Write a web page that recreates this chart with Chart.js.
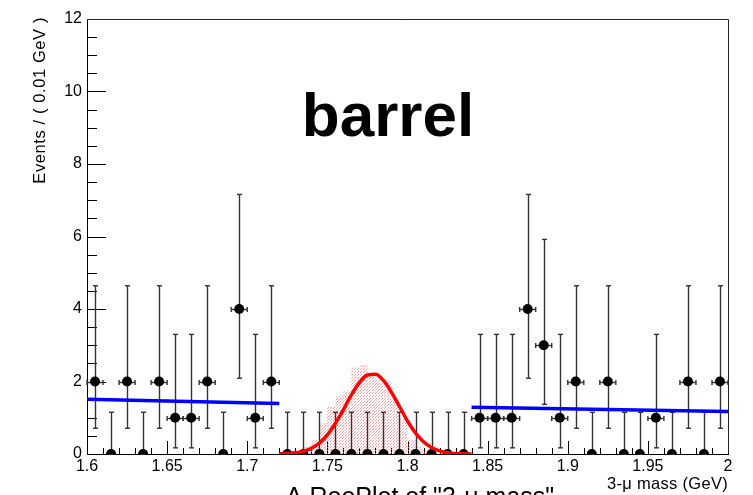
<!DOCTYPE html>
<html><head><meta charset="utf-8">
<script src="https://cdn.jsdelivr.net/npm/chart.js@4.4.1/dist/chart.umd.min.js"></script>
<style>html,body{margin:0;padding:0;background:#fff;overflow:hidden}#wrap{width:753px;height:495px;position:relative}</style>
</head><body><div id="wrap"><canvas id="c" width="753" height="495"></canvas></div>
<script>
// ---- data ----
const binCenters = [1.605,1.615,1.625,1.635,1.645,1.655,1.665,1.675,1.685,1.695,1.705,1.715,
  1.725,1.735,1.745,1.755,1.765,1.775,1.785,1.795,1.805,1.815,1.825,1.835,
  1.845,1.855,1.865,1.875,1.885,1.895,1.905,1.915,1.925,1.935,1.945,1.955,1.965,1.975,1.985,1.995];
const counts = [2,0,2,0,2,1,1,2,0,4,1,2,
  0,0,0,0,0,0,0,0,0,0,0,0,
  1,1,1,4,3,1,2,0,2,0,0,1,0,2,0,2];
const errLow = [1.29,0,1.29,0,1.29,0.83,0.83,1.29,0,1.91,0.83,1.29,
  0,0,0,0,0,0,0,0,0,0,0,0,
  0.83,0.83,0.83,1.91,1.63,0.83,1.29,0,1.29,0,0,0.83,0,1.29,0,1.29];
const errHigh = [2.64,1.15,2.64,1.15,2.64,2.30,2.30,2.64,1.15,3.16,2.30,2.64,
  1.15,1.15,1.15,1.15,1.15,1.15,1.15,1.15,1.15,1.15,1.15,1.15,
  2.30,2.30,2.30,3.16,2.92,2.30,2.64,1.15,2.64,1.15,1.15,2.30,1.15,2.64,1.15,2.64];
const binHalfWidth = 0.005;

const bkgLeftX = [1.60, 1.72];
const bkgLeftY = [1.51, 1.39];
const bkgRightX = [1.84, 2.00];
const bkgRightY = [1.29, 1.17];

const sigX = [1.72,1.725,1.73,1.735,1.74,1.745,1.75,1.755,1.76,1.765,1.77,1.775,1.78,1.785,1.79,1.795,1.80,1.805,1.81,1.815,1.82,1.825,1.83,1.835,1.84];
const sigY = [0.005,0.013,0.032,0.074,0.157,0.30,0.53,0.84,1.22,1.63,1.97,2.18,2.20,2.03,1.70,1.31,0.91,0.58,0.34,0.18,0.087,0.038,0.015,0.006,0.002];

const histX = [1.735,1.74,1.745,1.75,1.755,1.76,1.765,1.77,1.775,1.78,1.785,1.79,1.795,1.80,1.805,1.81,1.815,1.82];
const histY = [0.1,0.2,0.4,0.85,1.3,1.6,1.75,2.4,2.45,2.15,2.05,2.0,1.5,1.0,0.4,0.2,0.1,0];

const xTickValues = [1.6,1.65,1.7,1.75,1.8,1.85,1.9,1.95,2.0];
const xTickLabels = ['1.6','1.65','1.7','1.75','1.8','1.85','1.9','1.95','2'];
const yTickValues = [0,2,4,6,8,10,12];
const yTickLabels = ['0','2','4','6','8','10','12'];

const titleText = 'barrel';
const xTitle = '3-\u03bc mass (GeV)';
const yTitle = 'Events / ( 0.01 GeV )';
const bottomTitle = 'A RooPlot of "3-\u03bc mass"';

// ---- rendering ----
const FONT = "'Liberation Sans', Arial, Helvetica, sans-serif";

const pc = document.createElement('canvas');
pc.width = 3; pc.height = 3;
const pg = pc.getContext('2d');
pg.fillStyle = 'rgba(250,120,120,0.7)';
pg.fillRect(0,0,1,1);
pg.fillRect(1,2,1,1);
pg.fillStyle = 'rgba(250,170,170,0.5)';
pg.fillRect(2,1,1,1);
const histPattern = pg.createPattern(pc, 'repeat');

const POINTS_INDEX = 3;

const errorBars = {
  id: 'errorBars',
  beforeDatasetDraw(chart, args) {
    if (args.index !== POINTS_INDEX) return;
    const {ctx, scales: {x, y}} = chart;
    ctx.save();
    ctx.strokeStyle = '#333';
    ctx.lineWidth = 1.4;
    const seg = (x1, y1, x2, y2) => { ctx.beginPath(); ctx.moveTo(x1, y1); ctx.lineTo(x2, y2); ctx.stroke(); };
    binCenters.forEach((c, i) => {
      const px = Math.round(x.getPixelForValue(c)) + 0.5;
      const yl = y.getPixelForValue(counts[i] - errLow[i]);
      const yh = y.getPixelForValue(counts[i] + errHigh[i]);
      seg(px, yl, px, yh);
      seg(px - 2.5, yh, px + 2.5, yh);
      seg(px - 2.5, yl, px + 2.5, yl);
      if (counts[i] > 0) {
        const py = Math.round(y.getPixelForValue(counts[i])) + 0.5;
        const xl = x.getPixelForValue(c - binHalfWidth);
        const xr = x.getPixelForValue(c + binHalfWidth);
        seg(xl, py, xr, py);
        seg(xl, py - 2.5, xl, py + 2.5);
        seg(xr, py - 2.5, xr, py + 2.5);
      }
    });
    ctx.restore();
  }
};

const frame = {
  id: 'frame',
  beforeDatasetsDraw(chart) {
    const {ctx, chartArea: a, scales: {x, y}} = chart;
    ctx.save();
    ctx.strokeStyle = '#000';
    ctx.lineWidth = 1;
    for (let k = 0; k <= 24; k++) {
      const v = k * 0.5;
      const py = Math.round(y.getPixelForValue(v)) + 0.5;
      const len = (k % 4 === 0) ? 19 : 10;
      ctx.beginPath(); ctx.moveTo(a.left, py); ctx.lineTo(a.left + len, py); ctx.stroke();
    }
    for (let k = 0; k <= 40; k++) {
      const v = 1.6 + k * 0.01;
      const px = Math.round(x.getPixelForValue(v)) + 0.5;
      const len = (k % 5 === 0) ? 13 : 6;
      ctx.beginPath(); ctx.moveTo(px, a.bottom); ctx.lineTo(px, a.bottom - len); ctx.stroke();
    }
    ctx.strokeStyle = '#222';
    ctx.beginPath();
    ctx.moveTo(a.left, a.top + 0.5); ctx.lineTo(a.right + 0.5, a.top + 0.5); ctx.lineTo(a.right + 0.5, a.bottom);
    ctx.stroke();
    ctx.restore();
  }
};

const texts = {
  id: 'texts',
  afterDraw(chart) {
    const {ctx, chartArea: a} = chart;
    ctx.save();
    ctx.fillStyle = '#000';
    ctx.font = 'bold 62px ' + FONT;
    ctx.textAlign = 'center';
    ctx.textBaseline = 'alphabetic';
    ctx.fillText(titleText, 388, 136);
    ctx.font = '16.5px ' + FONT;
    ctx.letterSpacing = '0.3px';
    ctx.textAlign = 'right';
    ctx.fillText(xTitle, a.right, 489);
    ctx.save();
    ctx.letterSpacing = '0.6px';
    ctx.translate(45, a.top - 2);
    ctx.rotate(-Math.PI / 2);
    ctx.textAlign = 'right';
    ctx.fillText(yTitle, 0, 0);
    ctx.restore();
    ctx.letterSpacing = '0px';
    ctx.font = '25px ' + FONT;
    ctx.textAlign = 'center';
    ctx.fillText(bottomTitle, 420, 505);
    ctx.restore();
  }
};

new Chart(document.getElementById('c'), {
  type: 'scatter',
  data: {
    datasets: [
      { type: 'line', label: 'signal', data: sigX.map((v, i) => ({x: v, y: sigY[i]})),
        borderColor: '#ff0000', borderWidth: 3.5, pointRadius: 0, showLine: true,
        cubicInterpolationMode: 'monotone', fill: false },
      { type: 'line', label: 'bkgL', data: bkgLeftX.map((v, i) => ({x: v, y: bkgLeftY[i]})),
        borderColor: '#0000ff', borderWidth: 3.5, pointRadius: 0, showLine: true, fill: false },
      { type: 'line', label: 'bkgR', data: bkgRightX.map((v, i) => ({x: v, y: bkgRightY[i]})),
        borderColor: '#0000ff', borderWidth: 3.5, pointRadius: 0, showLine: true, fill: false },
      { type: 'scatter', label: 'data', data: binCenters.map((v, i) => ({x: v, y: counts[i]})),
        pointRadius: 5, pointBackgroundColor: '#000', pointBorderWidth: 0, showLine: false },
      { type: 'line', label: 'sigHist', data: histX.map((v, i) => ({x: v, y: histY[i]})),
        stepped: 'after', fill: 'origin', backgroundColor: histPattern, borderWidth: 0,
        borderColor: 'rgba(0,0,0,0)', pointRadius: 0, showLine: true }
    ]
  },
  options: {
    responsive: false,
    animation: false,
    devicePixelRatio: 1,
    layout: { padding: { left: 0, top: 19, right: 25, bottom: 0 } },
    plugins: { legend: { display: false }, tooltip: { enabled: false }, title: { display: false } },
    scales: {
      x: {
        type: 'linear', min: 1.6, max: 2.0,
        afterFit: s => { s.height = 41; },
        afterBuildTicks: s => { s.ticks = xTickValues.map(v => ({value: v})); },
        ticks: { callback: (v, i) => xTickLabels[i], color: '#000', padding: 3, maxRotation: 0,
                 autoSkip: false, font: { family: FONT, size: 16 } },
        grid: { display: false, drawTicks: false },
        border: { display: true, color: '#000', width: 1 }
      },
      y: {
        type: 'linear', min: 0, max: 12,
        afterFit: s => { s.width = 87; },
        afterBuildTicks: s => { s.ticks = yTickValues.map(v => ({value: v})); },
        ticks: { callback: (v, i) => yTickLabels[i], color: '#000', padding: 5,
                 autoSkip: false, font: { family: FONT, size: 16 } },
        grid: { display: false, drawTicks: false },
        border: { display: true, color: '#000', width: 1 }
      }
    }
  },
  plugins: [frame, errorBars, texts]
});
</script>
</body></html>
